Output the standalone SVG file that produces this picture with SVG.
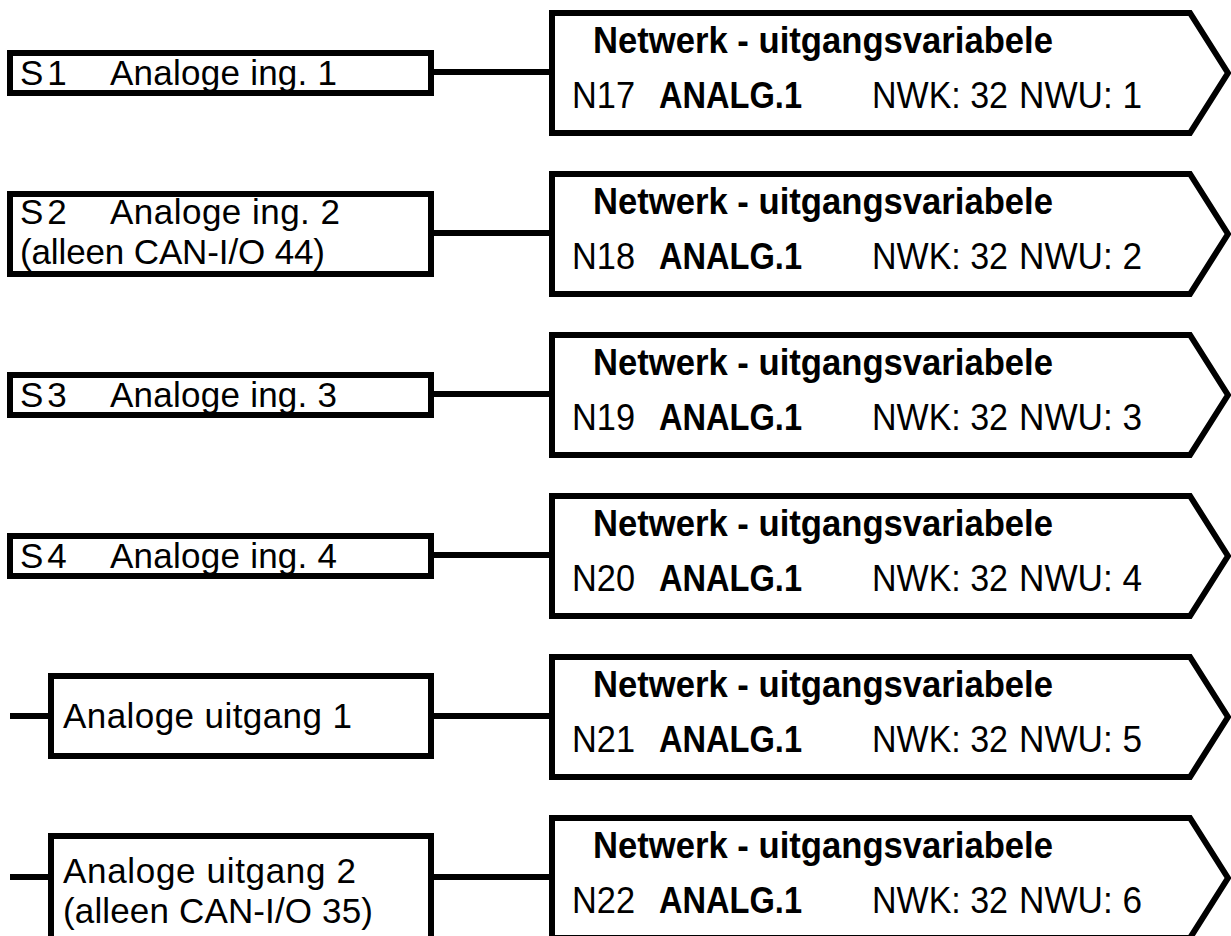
<svg xmlns="http://www.w3.org/2000/svg" width="1231" height="936" viewBox="0 0 1231 936">
  <style>
    .box { fill: #ffffff; stroke: #000000; stroke-width: 6; stroke-linejoin: miter; }
    .out { fill: #ffffff; stroke: #000000; stroke-width: 6; stroke-linejoin: miter; stroke-miterlimit: 10; }
    .wire { stroke: #000000; stroke-width: 6; fill: none; }
    text { font-family: "Liberation Sans", Arial, sans-serif; fill: #000000; }
    .lbl { font-size: 35px; }
    .title { font-size: 36px; font-weight: bold; }
    .info { font-size: 36px; }
    .bold { font-weight: bold; }
  </style>

  <!-- connectors -->
  <g id="connectors">
    <line class="wire" x1="431" y1="72" x2="552" y2="72"/>
    <line class="wire" x1="431" y1="233" x2="552" y2="233"/>
    <line class="wire" x1="431" y1="394" x2="552" y2="394"/>
    <line class="wire" x1="431" y1="555" x2="552" y2="555"/>
    <line class="wire" x1="10" y1="716" x2="51" y2="716"/>
    <line class="wire" x1="431" y1="716" x2="552" y2="716"/>
    <line class="wire" x1="10" y1="877" x2="51" y2="877"/>
    <line class="wire" x1="431" y1="877" x2="552" y2="877"/>
  </g>

  <!-- source blocks -->
  <g id="in-s1">
    <rect class="box" x="10" y="53" width="421" height="40"/>
    <text class="lbl" x="20" y="85">S<tspan dx="4">1</tspan></text>
    <text class="lbl" x="110" y="85" textLength="227">Analoge ing. 1</text>
  </g>
  <g id="in-s2">
    <rect class="box" x="10" y="194" width="421" height="80"/>
    <text class="lbl" x="20" y="224">S<tspan dx="4">2</tspan></text>
    <text class="lbl" x="110" y="224" textLength="230">Analoge ing. 2</text>
    <text class="lbl" x="20" y="264" textLength="305">(alleen CAN-I/O 44)</text>
  </g>
  <g id="in-s3">
    <rect class="box" x="10" y="375" width="421" height="40"/>
    <text class="lbl" x="20" y="407">S<tspan dx="4">3</tspan></text>
    <text class="lbl" x="110" y="407" textLength="227">Analoge ing. 3</text>
  </g>
  <g id="in-s4">
    <rect class="box" x="10" y="536" width="421" height="40"/>
    <text class="lbl" x="20" y="568">S<tspan dx="4">4</tspan></text>
    <text class="lbl" x="110" y="568" textLength="227">Analoge ing. 4</text>
  </g>
  <g id="out-a1">
    <rect class="box" x="51" y="676" width="380" height="80"/>
    <text class="lbl" x="63" y="728" textLength="289">Analoge uitgang 1</text>
  </g>
  <g id="out-a2">
    <rect class="box" x="51" y="836" width="380" height="130"/>
    <text class="lbl" x="63" y="883" textLength="293">Analoge uitgang 2</text>
    <text class="lbl" x="63" y="923" textLength="310">(alleen CAN-I/O 35)</text>
  </g>

  <!-- network output variables -->
  <g id="nwo-n17">
    <polygon class="out" points="552,13 1190,13 1228,73 1190,133 552,133"/>
    <text class="title" x="593" y="53" textLength="460" lengthAdjust="spacingAndGlyphs">Netwerk - uitgangsvariabele</text>
    <text class="info" x="572" y="108" textLength="63" lengthAdjust="spacingAndGlyphs">N17</text>
    <text class="info bold" x="659" y="108" textLength="143" lengthAdjust="spacingAndGlyphs">ANALG.1</text>
    <text class="info" x="872" y="108" textLength="136" lengthAdjust="spacingAndGlyphs">NWK: 32</text>
    <text class="info" x="1019" y="108" textLength="123" lengthAdjust="spacingAndGlyphs">NWU: 1</text>
  </g>
  <g id="nwo-n18">
    <polygon class="out" points="552,174 1190,174 1228,234 1190,294 552,294"/>
    <text class="title" x="593" y="214" textLength="460" lengthAdjust="spacingAndGlyphs">Netwerk - uitgangsvariabele</text>
    <text class="info" x="572" y="269" textLength="63" lengthAdjust="spacingAndGlyphs">N18</text>
    <text class="info bold" x="659" y="269" textLength="143" lengthAdjust="spacingAndGlyphs">ANALG.1</text>
    <text class="info" x="872" y="269" textLength="136" lengthAdjust="spacingAndGlyphs">NWK: 32</text>
    <text class="info" x="1019" y="269" textLength="123" lengthAdjust="spacingAndGlyphs">NWU: 2</text>
  </g>
  <g id="nwo-n19">
    <polygon class="out" points="552,335 1190,335 1228,395 1190,455 552,455"/>
    <text class="title" x="593" y="375" textLength="460" lengthAdjust="spacingAndGlyphs">Netwerk - uitgangsvariabele</text>
    <text class="info" x="572" y="430" textLength="63" lengthAdjust="spacingAndGlyphs">N19</text>
    <text class="info bold" x="659" y="430" textLength="143" lengthAdjust="spacingAndGlyphs">ANALG.1</text>
    <text class="info" x="872" y="430" textLength="136" lengthAdjust="spacingAndGlyphs">NWK: 32</text>
    <text class="info" x="1019" y="430" textLength="123" lengthAdjust="spacingAndGlyphs">NWU: 3</text>
  </g>
  <g id="nwo-n20">
    <polygon class="out" points="552,496 1190,496 1228,556 1190,616 552,616"/>
    <text class="title" x="593" y="536" textLength="460" lengthAdjust="spacingAndGlyphs">Netwerk - uitgangsvariabele</text>
    <text class="info" x="572" y="591" textLength="63" lengthAdjust="spacingAndGlyphs">N20</text>
    <text class="info bold" x="659" y="591" textLength="143" lengthAdjust="spacingAndGlyphs">ANALG.1</text>
    <text class="info" x="872" y="591" textLength="136" lengthAdjust="spacingAndGlyphs">NWK: 32</text>
    <text class="info" x="1019" y="591" textLength="123" lengthAdjust="spacingAndGlyphs">NWU: 4</text>
  </g>
  <g id="nwo-n21">
    <polygon class="out" points="552,657 1190,657 1228,717 1190,777 552,777"/>
    <text class="title" x="593" y="697" textLength="460" lengthAdjust="spacingAndGlyphs">Netwerk - uitgangsvariabele</text>
    <text class="info" x="572" y="752" textLength="63" lengthAdjust="spacingAndGlyphs">N21</text>
    <text class="info bold" x="659" y="752" textLength="143" lengthAdjust="spacingAndGlyphs">ANALG.1</text>
    <text class="info" x="872" y="752" textLength="136" lengthAdjust="spacingAndGlyphs">NWK: 32</text>
    <text class="info" x="1019" y="752" textLength="123" lengthAdjust="spacingAndGlyphs">NWU: 5</text>
  </g>
  <g id="nwo-n22">
    <polygon class="out" points="552,818 1190,818 1228,878 1190,938 552,938"/>
    <text class="title" x="593" y="858" textLength="460" lengthAdjust="spacingAndGlyphs">Netwerk - uitgangsvariabele</text>
    <text class="info" x="572" y="913" textLength="63" lengthAdjust="spacingAndGlyphs">N22</text>
    <text class="info bold" x="659" y="913" textLength="143" lengthAdjust="spacingAndGlyphs">ANALG.1</text>
    <text class="info" x="872" y="913" textLength="136" lengthAdjust="spacingAndGlyphs">NWK: 32</text>
    <text class="info" x="1019" y="913" textLength="123" lengthAdjust="spacingAndGlyphs">NWU: 6</text>
  </g>
</svg>
